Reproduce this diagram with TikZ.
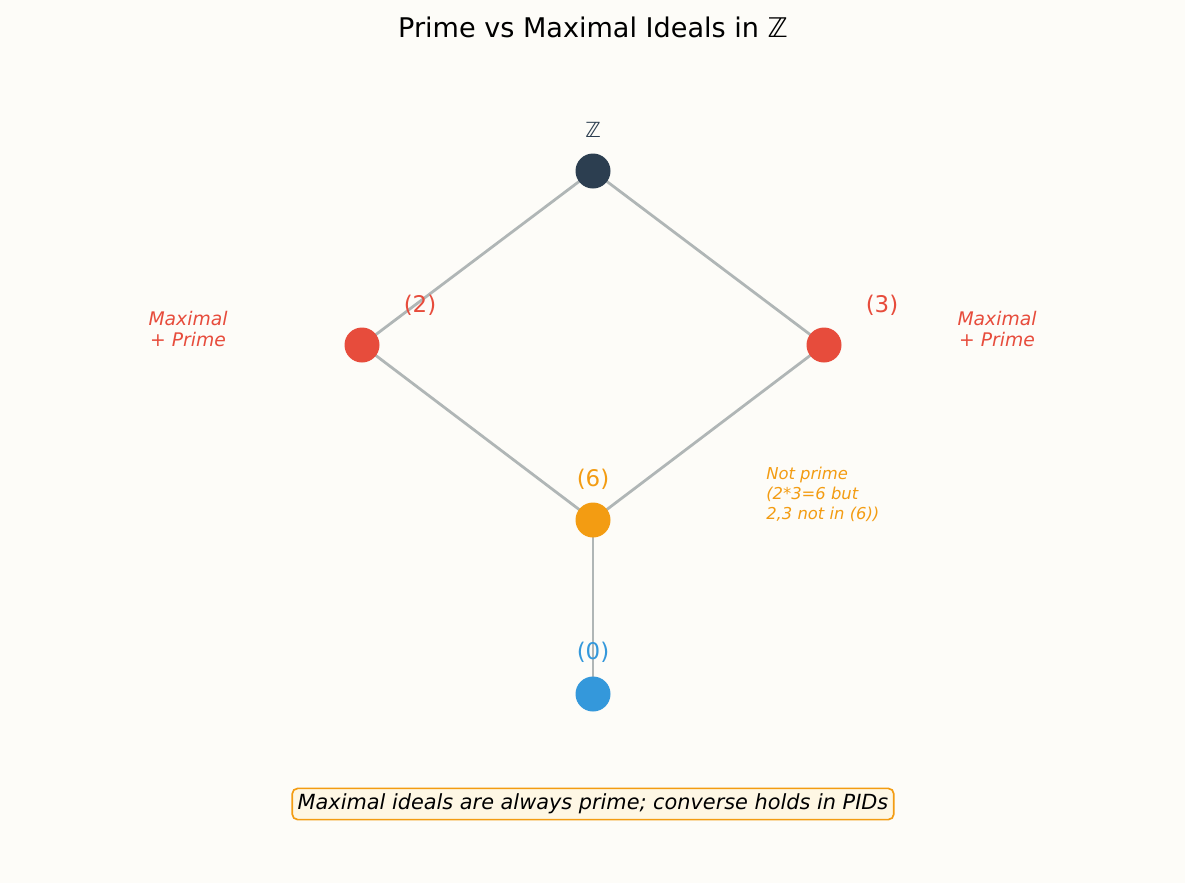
\documentclass[tikz,border=0pt]{standalone}
\usepackage{fontspec}
\setmainfont{DejaVu Sans}
\usetikzlibrary{backgrounds}
\definecolor{bg}{HTML}{FDFCF8}
\definecolor{edgec}{HTML}{B0B6B6}
\definecolor{topc}{HTML}{2C3E50}
\definecolor{redc}{HTML}{E74C3C}
\definecolor{orc}{HTML}{F39C12}
\definecolor{bluec}{HTML}{3498DB}
\definecolor{boxfill}{HTML}{FEF7E4}
\begin{document}
\begin{tikzpicture}[x=0.72pt,y=-0.72pt,
  dot/.style={circle,inner sep=0pt,minimum size=25.2pt},
  edge/.style={draw=edgec,line width=2pt},
  lbl/.style={inner sep=0pt,anchor=center},
  fs/.style={font=\fontsize{#1}{20}\selectfont}]
\useasboundingbox (0,0) rectangle (1185,883);
\node[lbl,fs=19.5] (title) at (593,27) {Prime vs Maximal Ideals in ℤ};
\node[dot,fill=topc] (z) at (593,171) {};
\node[dot,fill=redc] (two) at (362,345) {};
\node[dot,fill=redc] (three) at (824,345) {};
\node[dot,fill=orc] (six) at (593,520) {};
\node[dot,fill=bluec] (zero) at (593,694) {};
\begin{scope}[on background layer]
\fill[bg] (0,0) rectangle (1185,883);
\draw[edge] (z.center) -- (two.center) -- (six.center) -- (three.center) -- (z.center);
\draw[edge] (six.center) -- (zero.center);
\end{scope}
\node[lbl,fs=15,text=topc] (zl) at (593,130) {ℤ};
\node[lbl,fs=16.5,text=redc] (twol) at (420,305) {(2)};
\node[lbl,fs=16.5,text=redc] (threel) at (882,305) {(3)};
\node[lbl,fs=16.5,text=orc] (sixl) at (593,479) {(6)};
\node[lbl,fs=16.5,text=bluec] (zerol) at (593,652) {(0)};
\node[lbl,text=redc,align=center,font=\fontsize{13.5}{15.5}\selectfont\itshape] (twom) at (188,329) {Maximal\\+ Prime};
\node[lbl,text=redc,align=center,font=\fontsize{13.5}{15.5}\selectfont\itshape] (threem) at (997,329) {Maximal\\+ Prime};
\node[inner sep=0pt,anchor=west,text=orc,align=left,font=\fontsize{11.8}{14.3}\selectfont\itshape] (sixm) at (766,494) {Not prime\\(2*3=6 but\\2,3 not in (6))};
\node[draw=orc,fill=boxfill,line width=1.2pt,rounded corners=4pt,inner xsep=4pt,inner ysep=4pt,font=\fontsize{15}{18}\selectfont\itshape] (note) at (593,804) {Maximal ideals are always prime; converse holds in PIDs};
\end{tikzpicture}
\end{document}
